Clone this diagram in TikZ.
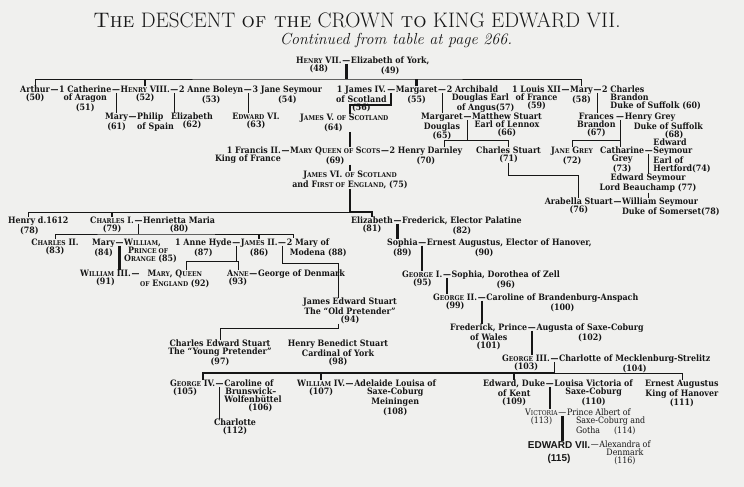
\documentclass[tikz,border=0pt]{standalone}
\usepackage{fontspec}
\usetikzlibrary{positioning, calc}
\newfontfamily\dvs{DejaVu Serif Condensed}
\newfontfamily\edsans{Liberation Sans}
\newcommand\bodyfont{\dvs\bfseries\fontsize{8.8}{8}\selectfont}
\newcommand\lightfont{\dvs\fontsize{8.8}{8}\selectfont}
\newcommand\edfont{\edsans\bfseries\fontsize{10}{13.5}\selectfont}
\newcommand\kcap[1]{{\fontsize{6.6}{6.6}\selectfont #1}}
\newcommand\tstrut{\rule{0pt}{6.4pt}}
\definecolor{paper}{RGB}{240,240,238}
\definecolor{ink}{RGB}{22,22,22}

\begin{document}
\begin{tikzpicture}[x=1pt, y=-1pt,
    pers/.style={inner sep=0pt, align=center, anchor=north, font=\bodyfont, text=ink, execute at begin node=\tstrut},
    wed/.style={pers, inner xsep=0.3pt, anchor=north west},
    kin/.style={draw=ink, line width=0.7pt},
    heir/.style={draw=ink, line width=2.4pt}
]
\fill[paper] (0,0) rectangle (744,487);
\useasboundingbox (0,0) rectangle (744,487);

% Title
\node[text=ink, font=\fontsize{21}{22}\selectfont] (title) at (357,20) {\textsc{The} DESCENT \textsc{of the} CROWN \textsc{to} KING EDWARD VII.};
\node[text=ink, font=\itshape\fontsize{16}{17}\selectfont] (subtitle) at (396,41) {Continued from table at page 266.};

% Henry VII
\node[pers, anchor=north west] (h7) at (296,57) {H\kcap{ENRY} VII.\\(48)};
\node[wed] (d0) at (h7.north east) {—};
\node[pers, anchor=north west] (eyork) at (d0.north east) {Elizabeth of York,\\(49)};
\coordinate (bar0) at (0,79);

% Children of Henry VII
\node[pers, anchor=north west] (arthur) at (20,86) {Arthur\\(50)};
\node[wed] (dA1) at (arthur.north east) {—};
\node[pers, anchor=north west] (cath) at (dA1.north east) {1 Catherine\\of Aragon\\(51)};
\node[wed] (dA2) at (cath.north east) {—};
\node[pers, anchor=north west] (h8) at (dA2.north east) {H\kcap{ENRY} VIII.\\(52)};
\node[wed] (dA3) at (h8.north east) {—};
\node[pers, anchor=north west] (boleyn) at (dA3.north east) {2 Anne Boleyn\\(53)};
\node[wed] (dA4) at (boleyn.north east) {—};
\node[pers, anchor=north west] (jane) at (dA4.north east) {3 Jane Seymour\\(54)};
\node[pers, anchor=north west] (james4) at (336,86) {1 James IV.\\of Scotland\\(56)};
\node[wed] (dA5) at (james4.north east) {—};
\node[pers, anchor=north west] (marg55) at (dA5.north east) {Margaret\\(55)};
\node[wed] (dA6) at (marg55.north east) {—};
\node[pers, anchor=north west, align=left] (archib) at (dA6.north east) {2 Archibald\\\hspace*{5pt}Douglas Earl\\\hspace*{10pt}of Angus(57)};
\node[pers, anchor=north west] (louis) at (512,86) {1 Louis XII\\of France\\(59)};
\node[wed] (dA7) at (louis.north east) {—};
\node[pers, anchor=north west] (mary58) at (dA7.north east) {Mary\\(58)};
\node[wed] (dA8) at (mary58.north east) {—};
\node[pers, anchor=north west, align=left] (brandon) at (dA8.north east) {2 Charles\\\hphantom{2 }Brandon\\\hphantom{2 }Duke of Suffolk (60)};

\draw[heir] (d0.south) -- (d0.south |- bar0);
\draw[kin] (arthur.north) |- (d0.south |- bar0) -| (mary58.north);
\draw[heir] (h8.north) -- (h8.north |- bar0);
\draw[heir] (marg55.north) -- (marg55.north |- bar0);

% Grandchildren
\node[pers, anchor=north west] (mary61) at (105,113) {Mary\\(61)};
\node[wed] (dB1) at (mary61.north east) {—};
\node[pers, anchor=north west, align=left] (philip) at (dB1.north east) {Philip\\of Spain};
\node[pers] (eliz62) at (192,113) {Elizabeth\\(62)};
\node[pers] (edw6) at (256,113) {E\kcap{DWARD} VI.\\(63)};
\node[pers, anchor=north west, align=left] (james5) at (300,114) {J\kcap{AMES} V. \kcap{OF} S\kcap{COTLAND}\\\hspace*{24pt}(64)};
\node[pers, anchor=north west] (margD) at (421,113) {Margaret\\Douglas\\(65)};
\node[wed] (dB2) at (margD.north east) {—};
\node[pers, anchor=north west] (matthew) at (dB2.north east) {Matthew Stuart\\Earl of Lennox\\(66)};
\node[pers, anchor=north west] (frances) at (577,113) {Frances\\Brandon\\(67)};
\node[wed] (dB3) at (frances.north east) {—};
\node[pers, anchor=north west, align=left] (hgrey) at (dB3.north east) {Henry Grey\\\hspace*{9pt}Duke of Suffolk\\\hspace*{40pt}(68)};

\coordinate (spine) at (350,0);
\coordinate (kinkJ) at (0,105);
\draw[kin] (dA2.south) -- (dA2.south |- mary61.north);
\draw[kin] (dA3.south) -- (dA3.south |- eliz62.north);
\draw[kin] (dA4.south) -- (dA4.south |- edw6.north);
\draw[heir] (dA5.south) |- (spine |- kinkJ) -- (spine |- james5.north);
\draw[kin] (dA6.south) -- (dA6.south |- margD.north);
\draw[kin] (dA8.south) -- (dA8.south |- frances.north);

% Mary Queen of Scots and cousins
\node[pers, anchor=north east, align=right] (francis) at (281,147) {1 Francis II.\\King of France};
\node[wed] (dC1) at (francis.north east) {—};
\node[pers, anchor=north west] (maryqs) at (dC1.north east) {M\kcap{ARY} Q\kcap{UEEN OF} S\kcap{COTS}\\(69)};
\node[wed] (dC2) at (maryqs.north east) {—};
\node[pers, anchor=north west] (darnley) at (dC2.north east) {2 Henry Darnley\\(70)};
\node[pers, anchor=north west] (cstuart) at (476,147) {Charles Stuart\\(71)};
\node[pers] (jgrey) at (572,147) {J\kcap{ANE} G\kcap{REY}\\(72)};
\node[pers, anchor=north west] (cathgrey) at (600,147) {Catharine\\Grey\\(73)};
\node[wed] (dC3) at (cathgrey.north east) {—};
\node[pers, anchor=north west, align=left] (hertford) at ($(dC3.north east)+(0,-8)$) {Edward\\Seymour\\Earl of\\Hertford(74)};

\coordinate (barDL) at (0,140);
\draw[kin] (dB2.south) -- (dB2.south |- barDL);
\draw[kin] ([xshift=-18pt]darnley.north east) |- (cstuart.north |- barDL) -- (cstuart.north);
\draw[kin] (dB3.south) -- (dB3.south |- cathgrey.north);
\draw[kin] (jgrey.north) |- (dB3.south |- barDL);

\node[pers] (james6) at (350,171) {J\kcap{AMES} VI. \kcap{OF} S\kcap{COTLAND}\\and F\kcap{IRST OF} E\kcap{NGLAND}, (75)};
\node[pers] (edsey) at (648,174) {Edward Seymour\\Lord Beauchamp (77)};
\node[pers, anchor=north east] (arabella) at (613,198) {Arabella Stuart\\(76)};
\node[wed] (dD) at (arabella.north east) {—};
\node[pers, anchor=north west, align=left] (william78) at (dD.north east) {William Seymour\\Duke of Somerset(78)};

\coordinate (barAr) at (0,175);
\draw[kin] (dC3.south) -- (dC3.south |- edsey.north);
\draw[kin] (edsey.south) -- (edsey.south |- william78.north);
\draw[kin] (cstuart.south) |- (arabella.north |- barAr) -- (arabella.north);
\draw[heir] (spine |- james5.south) -- (spine |- maryqs.north);
\draw[heir] (spine |- maryqs.south) -- (spine |- james6.north);

% Children of James VI
\node[pers, anchor=north west, align=left] (henry) at (8,217) {Henry d.1612\\\hspace*{12pt}(78)};
\node[pers, anchor=north west] (charles1) at (90,217) {C\kcap{HARLES} I.\\(79)};
\node[wed] (dD1) at (charles1.north east) {—};
\node[pers, anchor=north west] (henrietta) at (dD1.north east) {Henrietta Maria\\(80)};
\node[pers] (eliz81) at (372,217) {Elizabeth\\(81)};
\node[wed] (dD2) at (eliz81.north east) {—};
\node[pers, anchor=north west] (fredpal) at (dD2.north east) {Frederick, Elector Palatine\\(82)};

\coordinate (barSt) at (0,212);
\draw[heir] (spine |- james6.south) -- (spine |- barSt) -| (eliz81.north);
\draw[kin] ([xshift=-10pt]henry.north) |- (spine |- barSt);
\draw[heir] (charles1.north) -- (charles1.north |- barSt);

% Stuarts
\node[pers] (charles2) at (55,239) {C\kcap{HARLES} II.\\(83)};
\node[pers, anchor=north west] (mary84) at (92,239) {Mary\\(84)};
\node[wed] (dE1) at (mary84.north east) {—};
\node[pers, anchor=north west, align=left] (wilor) at (dE1.north east) {W\kcap{ILLIAM},\\\hspace*{4pt}P\kcap{RINCE OF}\\O\kcap{RANGE} (85)};
\node[pers, anchor=north west] (hyde) at (175,239) {1 Anne Hyde\\(87)};
\node[wed] (dE2) at (hyde.north east) {—};
\node[pers, anchor=north west] (james2) at (dE2.north east) {J\kcap{AMES} II.\\(86)};
\node[wed] (dE3) at (james2.north east) {—};
\node[pers, anchor=north west, align=left] (modena) at (dE3.north east) {2 Mary of\\\hspace*{3pt}Modena (88)};

\coordinate (barC1) at (0,234);
\coordinate (stub) at (293,238);
\draw[kin] (dD1.south) -- (dD1.south |- barC1);
\draw[kin] (charles2.north) |- (dD1.south |- barC1) -| (stub);
\draw[heir] (james2.north) -- (james2.north |- barC1);

\node[pers, anchor=north west] (will3) at (80,270) {W\kcap{ILLIAM} III.\\(91)};
\node[wed] (dF1) at (will3.north east) {—};
\node[pers, anchor=north west] (maryqe) at (dF1.north east) {M\kcap{ARY}, Q\kcap{UEEN}\\\kcap{OF} E\kcap{NGLAND} (92)};
\node[pers, anchor=north west] (anne93) at (227,270) {A\kcap{NNE}\\(93)};
\node[wed] (dF2) at (anne93.north east) {—};
\node[pers, anchor=north west] (georgeD) at (dF2.north east) {George of Denmark};

\coordinate (barH) at (0,261);
\coordinate (barJ) at (0,263);
\draw[heir] (dE1.south) -- (dE1.south |- will3.north);
\draw[kin] (dE2.south) |- ([xshift=12pt]maryqe.north |- barH) -- ([xshift=12pt]maryqe.north);
\draw[kin] (dE2.south |- barH) -| (anne93.north);

\node[pers] (jes) at (350,298) {James Edward Stuart\\The “Old Pretender”\\(94)};
\draw[kin] (dE3.south) |- ([xshift=-12pt]jes.north |- barJ) -- ([xshift=-12pt]jes.north);

\node[pers] (charlesES) at (220,340) {Charles Edward Stuart\\The “Young Pretender”\\(97)};
\node[pers] (henryBS) at (338,340) {Henry Benedict Stuart\\Cardinal of York\\(98)};
\coordinate (barK) at (0,328);
\draw[kin] ([xshift=-12pt]jes.south) |- (charlesES.north |- barK) -- (charlesES.north);

% Hanover line
\node[pers, anchor=north west] (sophia) at (387,239) {Sophia\\(89)};
\node[wed] (dE4) at (sophia.north east) {—};
\node[pers, anchor=north west, align=left] (ernest90) at (dE4.north east) {Ernest Augustus, Elector of Hanover,\\\hspace*{48pt}(90)};
\node[pers, anchor=north west] (george1) at (402,271) {G\kcap{EORGE} I.\\(95)};
\node[wed] (dG1) at (george1.north east) {—};
\node[pers, anchor=north west] (sophiaD) at (dG1.north east) {Sophia, Dorothea of Zell\\(96)};
\node[pers, anchor=north west] (george2) at (433,294) {G\kcap{EORGE} II.\\(99)};
\node[wed] (dG2) at (george2.north east) {—};
\node[pers, anchor=north west] (caroline100) at (dG2.north east) {Caroline of Brandenburg-Anspach\\(100)};
\node[pers, anchor=north west] (fredP) at (450,324) {Frederick, Prince\\of Wales\\(101)};
\node[wed] (dH1) at (fredP.north east) {—};
\node[pers, anchor=north west] (augusta) at (dH1.north east) {Augusta of Saxe-Coburg\\(102)};
\node[pers, anchor=north west] (george3) at (502,355) {G\kcap{EORGE} III.\\(103)};
\node[wed] (dI1) at (george3.north east) {—};
\node[pers, anchor=north west] (charlotte104) at (dI1.north east) {Charlotte of Mecklenburg-Strelitz\\(104)};

\draw[heir] (dD2.south) -- (dD2.south |- sophia.north);
\draw[heir] (dE4.south) -- (dE4.south |- george1.north);
\draw[heir] (dG1.south) -- (dG1.south |- george2.north);
\draw[heir] (dG2.south) -- (dG2.south |- fredP.north);
\draw[heir] (dH1.south) -- (dH1.south |- george3.north);

% Children of George III
\node[pers, anchor=north west, align=left] (george4) at (170,380) {G\kcap{EORGE} IV.\\\hspace*{3pt}(105)};
\node[wed] (dJ1) at (george4.north east) {—};
\node[pers, anchor=north west, align=left] (carolineB) at (dJ1.north east) {Caroline of\\\hspace*{1pt}Brunswick–\\Wolfenbüttel\\\hspace*{24pt}(106)};
\node[pers, anchor=north west] (william4) at (297,380) {W\kcap{ILLIAM} IV.\\(107)};
\node[wed] (dJ2) at (william4.north east) {—};
\node[pers, anchor=north west] (adelaide) at (dJ2.north east) {Adelaide Louisa of\\Saxe-Coburg\\Meiningen\\(108)};
\node[pers, anchor=north west] (edwardK) at (483,380) {Edward, Duke\\of Kent\\(109)};
\node[wed] (dJ3) at (edwardK.north east) {—};
\node[pers, anchor=north west] (louisa) at (dJ3.north east) {Louisa Victoria of\\Saxe-Coburg\\(110)};
\node[pers, anchor=north west] (ernest111) at (645,380) {Ernest Augustus\\King of Hanover\\(111)};
\node[pers] (charlotte112) at (235,419) {Charlotte\\(112)};

\coordinate (barL) at (0,373);
\draw[kin] (dI1.south) -- (dI1.south |- barL) -| (ernest111.north);
\draw[heir] ([xshift=33pt]george4.north west) |- (dI1.south |- barL);
\draw[heir] (william4.north) -- (william4.north |- barL);
\draw[heir] (edwardK.north) -- (edwardK.north |- barL);
\draw[kin] (dJ1.south) -- (dJ1.south |- charlotte112.north);

% Victoria and Edward VII
\node[pers, anchor=north west, font=\lightfont] (victoria) at (525,409) {V\kcap{ICTORIA}\\(113)};
\node[wed, font=\lightfont] (dK1) at (victoria.north east) {—};
\node[pers, anchor=north west, align=left, font=\lightfont] (albert) at (dK1.north east) {Prince Albert of\\\hspace*{9pt}Saxe-Coburg and\\\hspace*{9pt}Gotha\hspace{14pt}(114)};
\node[pers, font=\edfont] (edward7) at (559,441) {EDWARD VII.\\(115)};
\node[wed, font=\lightfont] (dL1) at (edward7.north east) {—};
\node[pers, anchor=north west, font=\lightfont] (alexandra) at (dL1.north east) {Alexandra of\\Denmark\\(116)};

\draw[heir] (dJ3.south) -- (dJ3.south |- victoria.north);
\draw[heir] (dK1.south) -- (dK1.south |- edward7.north);
\end{tikzpicture}
\end{document}
